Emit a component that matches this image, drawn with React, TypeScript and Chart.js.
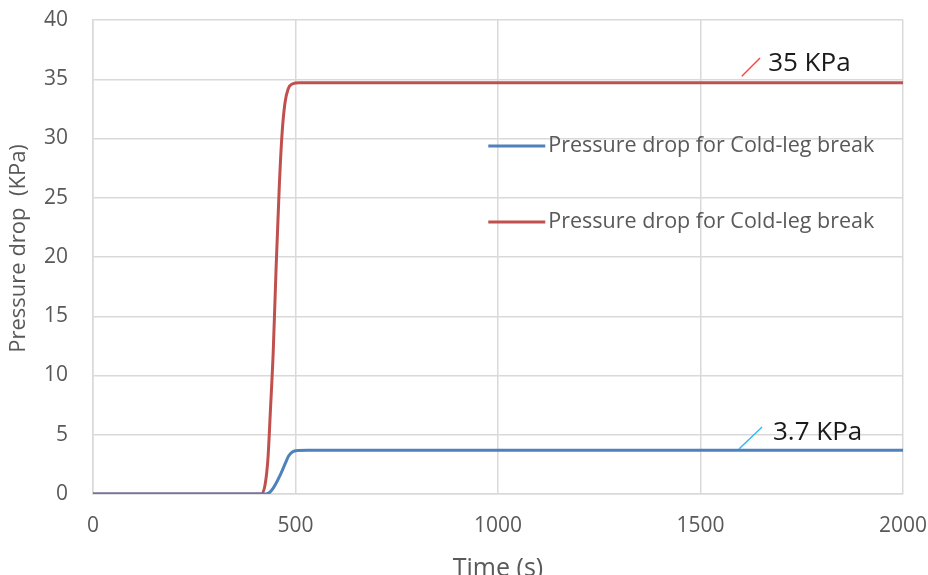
import React, { useEffect, useRef } from "react";
import { Chart, registerables } from "chart.js";

Chart.register(...registerables);

// Time (s) and pressure drop (KPa)
const redTimes = [0, 100, 200, 300, 400, 415, 425, 432, 438, 445, 452, 460, 467, 474, 482, 492, 510, 600, 800, 1000, 1200, 1400, 1600, 1800, 2000];
const redValues = [0, 0, 0, 0, 0, 0, 0.8, 3, 7, 12, 19, 26, 30.5, 33, 34.2, 34.6, 34.7, 34.7, 34.7, 34.7, 34.7, 34.7, 34.7, 34.7, 34.7];
const blueTimes = [0, 100, 200, 300, 400, 425, 435, 445, 455, 465, 475, 483, 492, 505, 530, 600, 800, 1000, 1200, 1400, 1600, 1800, 2000];
const blueValues = [0, 0, 0, 0, 0, 0, 0.1, 0.5, 1.1, 1.8, 2.6, 3.2, 3.55, 3.68, 3.7, 3.7, 3.7, 3.7, 3.7, 3.7, 3.7, 3.7, 3.7];

const seriesLabels = ["Pressure drop for Cold-leg break", "Pressure drop for Cold-leg break"];
const seriesColors = ["#4f81bd", "#c0504d"];

const xTicks = [0, 500, 1000, 1500, 2000];
const yTicks = [0, 5, 10, 15, 20, 25, 30, 35, 40];

// annotations: label, text anchor (time, value), slash start, slash end, slash colour
const annoLabels = ["35 KPa", "3.7 KPa"];
const annoTextAt = [[1667, 36.3], [1679, 5.2]];
const annoSlashFrom = [[1602, 35.25], [1595, 3.8]];
const annoSlashTo = [[1647, 36.8], [1652, 5.65]];
const annoSlashColors = ["#ff3b3b", "#29b6f6"];

const FONT = "'Open Sans', 'Liberation Sans', sans-serif";

export default function App() {
  const ref = useRef<HTMLCanvasElement>(null);
  useEffect(() => {
    document.body.style.margin = "0";
    const canvas = ref.current!;
    const annoPlugin = {
      id: "annos",
      afterDatasetsDraw(chart: any) {
        const { ctx, scales } = chart;
        const xs = scales.x, ys = scales.y;
        ctx.save();
        // legend inside plot
        const area = chart.chartArea;
        const lx = area.left + (area.right - area.left) * 0.488;
        const lys = [area.top + (area.bottom - area.top) * 0.266, area.top + (area.bottom - area.top) * 0.426];
        seriesLabels.forEach((lab, i) => {
          ctx.strokeStyle = seriesColors[i];
          ctx.lineWidth = 3;
          ctx.beginPath();
          ctx.moveTo(lx, lys[i]);
          ctx.lineTo(lx + 57, lys[i]);
          ctx.stroke();
          ctx.fillStyle = "#595959";
          ctx.font = `21.5px ${FONT}`;
          ctx.textBaseline = "middle";
          ctx.textAlign = "left";
          ctx.fillText(lab, lx + 60, lys[i]);
        });
        annoLabels.forEach((lab, i) => {
          ctx.strokeStyle = annoSlashColors[i];
          ctx.lineWidth = 1.3;
          ctx.beginPath();
          ctx.moveTo(xs.getPixelForValue(annoSlashFrom[i][0]), ys.getPixelForValue(annoSlashFrom[i][1]));
          ctx.lineTo(xs.getPixelForValue(annoSlashTo[i][0]), ys.getPixelForValue(annoSlashTo[i][1]));
          ctx.stroke();
          ctx.fillStyle = "#1a1a1a";
          ctx.font = `26px ${FONT}`;
          ctx.textBaseline = "middle";
          ctx.textAlign = "left";
          ctx.fillText(lab, xs.getPixelForValue(annoTextAt[i][0]), ys.getPixelForValue(annoTextAt[i][1]));
        });
        ctx.restore();
      },
    };
    const chart = new Chart(canvas, {
      type: "line",
      data: {
        datasets: [
          {
            label: seriesLabels[0],
            data: blueTimes.map((t, i) => ({ x: t, y: blueValues[i] })),
            borderColor: seriesColors[0],
            borderWidth: 3,
            pointRadius: 0,
            cubicInterpolationMode: "monotone",
            fill: false,
          },
          {
            label: seriesLabels[1],
            data: redTimes.map((t, i) => ({ x: t, y: redValues[i] })),
            borderColor: seriesColors[1],
            borderWidth: 3,
            pointRadius: 0,
            cubicInterpolationMode: "monotone",
            fill: false,
          },
        ],
      },
      options: {
        animation: false,
        responsive: false,
        layout: { padding: { top: 20, right: 25, left: 0, bottom: 0 } },
        plugins: { legend: { display: false }, tooltip: { enabled: false } },
        scales: {
          x: {
            type: "linear",
            min: 0,
            max: 2000,
            afterBuildTicks: (s: any) => { s.ticks = xTicks.map((v) => ({ value: v })); },
            afterFit: (s: any) => { s.height = 81; s.paddingLeft = 0; s.paddingRight = 0; },
            grid: { color: "#d9d9d9", drawTicks: false, lineWidth: 1.5 },
            border: { color: "#d9d9d9", width: 1.5 },
            ticks: { color: "#595959", font: { family: FONT, size: 21 }, padding: 19, maxRotation: 0, callback: (v: any) => String(v) },
            title: { display: true, text: "Time (s)", color: "#595959", font: { family: FONT, size: 25 }, padding: { top: 0, bottom: -9 } },
          },
          y: {
            type: "linear",
            min: 0,
            max: 40,
            afterBuildTicks: (s: any) => { s.ticks = yTicks.map((v) => ({ value: v })); },
            afterFit: (s: any) => { s.width = 93; s.paddingTop = 0; s.paddingBottom = 0; },
            grid: { color: "#d9d9d9", drawTicks: false, lineWidth: 1.5 },
            border: { color: "#d9d9d9", width: 1.5 },
            ticks: { color: "#595959", font: { family: FONT, size: 21 }, padding: 25, callback: (v: any) => String(v) },
            title: { display: true, text: "   Pressure drop  (KPa)", color: "#595959", font: { family: FONT, size: 22 }, padding: { top: 6, bottom: 0 } },
          },
        },
      },
      plugins: [annoPlugin],
    } as any);
    return () => chart.destroy();
  }, []);
  return (
    <div style={{ width: 928, height: 575 }}>
      <canvas ref={ref} width={928} height={575} style={{ display: "block" }} />
    </div>
  );
}
